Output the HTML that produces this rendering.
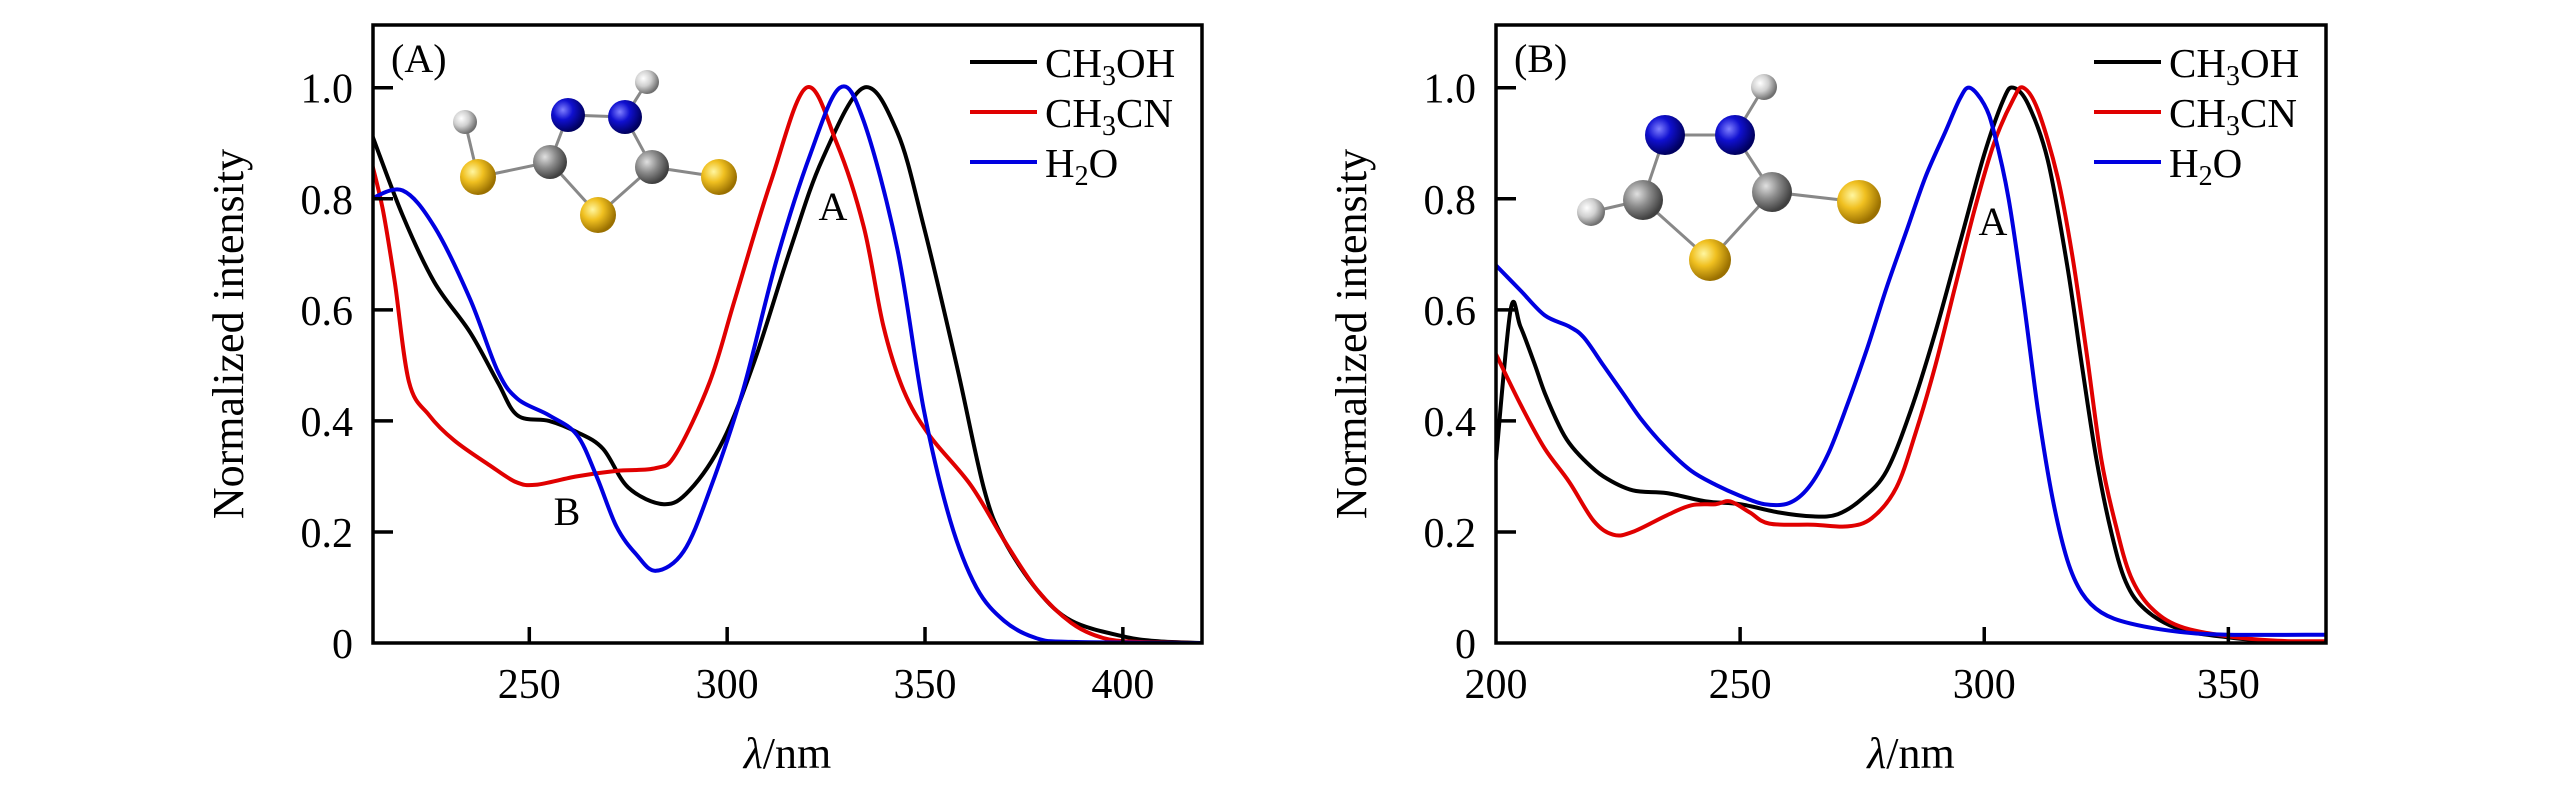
<!DOCTYPE html>
<html><head><meta charset="utf-8"><style>
html,body{margin:0;padding:0;background:#fff;}
svg{display:block;font-family:"Liberation Serif",serif;}
</style></head><body>
<svg id="fig" width="2567" height="787" viewBox="0 0 2567 787" xmlns="http://www.w3.org/2000/svg">
<defs>
<radialGradient id="gS" cx="35%" cy="35%" r="65%"><stop offset="0" stop-color="#fff6a0"/><stop offset="0.45" stop-color="#f0c020"/><stop offset="1" stop-color="#9a7000"/></radialGradient>
<radialGradient id="gN" cx="35%" cy="35%" r="65%"><stop offset="0" stop-color="#8080ff"/><stop offset="0.45" stop-color="#1010d0"/><stop offset="1" stop-color="#000060"/></radialGradient>
<radialGradient id="gC" cx="35%" cy="35%" r="65%"><stop offset="0" stop-color="#e0e0e0"/><stop offset="0.5" stop-color="#8a8a8a"/><stop offset="1" stop-color="#404040"/></radialGradient>
<radialGradient id="gH" cx="35%" cy="35%" r="65%"><stop offset="0" stop-color="#ffffff"/><stop offset="0.5" stop-color="#d0d0d0"/><stop offset="1" stop-color="#707070"/></radialGradient>
</defs>
<g id="panelA"></g>
<g id="panelB"></g>
</svg>
<script>
// ---- Panel A data ----
const aCH3OHx=[210,218,226,235,242,247,255,262,268.6,275,284,290.5,299,307,316,324,334.5,343,349.7,358,365,370,378.4,387,400,409,420];
const aCH3OHy=[0.92,0.77,0.65,0.56,0.47,0.41,0.40,0.38,0.35,0.28,0.25,0.275,0.365,0.51,0.71,0.87,1.0,0.92,0.75,0.50,0.275,0.185,0.095,0.04,0.012,0.003,0];
const aCH3CNx=[210,213,216,219.6,224.7,231,240,246.6,251.7,262,272,282,287,295.6,302,311,320,327.7,334.5,339.5,344.6,351,361.5,370,378.4,387,395,403.7,420];
const aCH3CNy=[0.87,0.78,0.65,0.47,0.41,0.365,0.32,0.29,0.285,0.30,0.31,0.315,0.34,0.47,0.62,0.83,1.0,0.90,0.75,0.57,0.455,0.375,0.285,0.185,0.095,0.036,0.009,0.002,0];
const aH2Ox=[210,218,226,235,242,247,255,262,267,272,277,282,289,295.6,304,312.5,321,328.5,334.5,343,349.7,356.4,363,370,378,387,420];
const aH2Oy=[0.80,0.815,0.75,0.62,0.49,0.44,0.41,0.375,0.30,0.21,0.16,0.13,0.165,0.275,0.455,0.69,0.88,1.0,0.94,0.71,0.42,0.22,0.10,0.04,0.009,0.002,0];
const aXTicks=[250,300,350,400];
// ---- Panel B data ----
const bCH3OHx=[200,203,205,208,210,213,215,218,222,228,235,243,250,258,265,270,275,280,285,290,295,300,304,306,309,313,317,320,323,326,329,333,340,350,360,370];
const bCH3OHy=[0.33,0.60,0.57,0.50,0.45,0.39,0.36,0.33,0.30,0.275,0.27,0.255,0.25,0.235,0.228,0.232,0.26,0.31,0.42,0.56,0.72,0.88,0.98,1.0,0.97,0.87,0.68,0.50,0.33,0.20,0.11,0.06,0.025,0.01,0.003,0.002];
const bCH3CNx=[200,205,210,215,220,224,228,235,240,245,248,252,256,265,272,277,282,286,290,294,298,302,306,308,311,315,318,321,324,327,330,334,340,350,360,370];
const bCH3CNy=[0.52,0.43,0.35,0.29,0.22,0.195,0.20,0.23,0.248,0.25,0.255,0.235,0.215,0.213,0.21,0.225,0.28,0.38,0.50,0.64,0.78,0.90,0.98,1.0,0.96,0.84,0.70,0.52,0.33,0.21,0.12,0.065,0.03,0.012,0.004,0.003];
const bH2Ox=[200,205,210,215,218,222,226,230,235,240,245,250,255,260,264,268,272,276,280,284,288,292,295,297,300,302,305,308,311,314,317,320,324,330,340,350,370];
const bH2Oy=[0.68,0.635,0.59,0.57,0.55,0.50,0.45,0.40,0.35,0.31,0.285,0.265,0.25,0.252,0.28,0.34,0.43,0.53,0.64,0.74,0.84,0.92,0.98,1.0,0.97,0.92,0.80,0.62,0.42,0.26,0.15,0.09,0.055,0.035,0.02,0.015,0.015];
const bXTicks=[200,250,300,350];
const yTicks=[0,0.2,0.4,0.6,0.8,1.0];
const yTickLabels=["0","0.2","0.4","0.6","0.8","1.0"];
const legendNames=[["CH","3","OH"],["CH","3","CN"],["H","2","O"]];
const colors=["#000","#e00000","#0000e0"];

const NS="http://www.w3.org/2000/svg";
function mk(parent,tag,attrs){const e=document.createElementNS(NS,tag);for(const k in attrs)e.setAttribute(k,attrs[k]);parent.appendChild(e);return e;}

function smoothPath(pts){
  let d='M'+pts[0][0].toFixed(1)+','+pts[0][1].toFixed(1);
  for(let i=0;i<pts.length-1;i++){
    const p0=pts[Math.max(0,i-1)],p1=pts[i],p2=pts[i+1],p3=pts[Math.min(pts.length-1,i+2)];
    const t=1/6;
    const c1x=p1[0]+(p2[0]-p0[0])*t, c1y=p1[1]+(p2[1]-p0[1])*t;
    const c2x=p2[0]-(p3[0]-p1[0])*t, c2y=p2[1]-(p3[1]-p1[1])*t;
    d+='C'+Math.max(p1[0],Math.min(p2[0],c1x)).toFixed(1)+','+c1y.toFixed(1)+' '+Math.max(p1[0],Math.min(p2[0],c2x)).toFixed(1)+','+c2y.toFixed(1)+' '+p2[0].toFixed(1)+','+p2[1].toFixed(1);
  }
  return d;
}

function panel(g,cfg){
  const {L,R,T,B,xmin,xmax,ymax}=cfg;
  const sx=v=>L+(v-xmin)/(xmax-xmin)*(R-L);
  const sy=v=>B-v/ymax*(B-T);
  const clip=mk(g,'clipPath',{id:cfg.id+'clip'});
  mk(clip,'rect',{x:L,y:T,width:R-L,height:B-T});
  cfg.series.forEach((s,i)=>{
    const pts=s.x.map((xv,j)=>[sx(xv),sy(s.y[j])]);
    const p=mk(g,'path',{d:smoothPath(pts),fill:'none',stroke:colors[i],'stroke-width':4,'stroke-linejoin':'round','clip-path':'url(#'+cfg.id+'clip)'});
    
    
  });
  const fr=mk(g,'rect',{x:L,y:T,width:R-L,height:B-T,fill:'none',stroke:'#000','stroke-width':3.5});
  
  
  yTicks.forEach((v,i)=>{
    if(v>0){const t=mk(g,'line',{x1:L,x2:L+20,y1:sy(v),y2:sy(v),stroke:'#000','stroke-width':3.5});
      
      }
    const tx=mk(g,'text',{x:L-20,y:sy(v)+15,'font-size':42,'text-anchor':'end'});
    tx.textContent=yTickLabels[i];
    
    
  });
  cfg.xt.forEach(v=>{
    if(v>xmin){const t=mk(g,'line',{x1:sx(v),x2:sx(v),y1:B,y2:B-16,stroke:'#000','stroke-width':3.5});
      
      }
    const tx=mk(g,'text',{x:sx(v),y:B+55,'font-size':42,'text-anchor':'middle'});
    tx.textContent=String(v);
    
    
  });
  const yt=mk(g,'text',{x:0,y:0,'font-size':44,'text-anchor':'middle',transform:'translate('+(L-130)+','+((T+B)/2)+') rotate(-90)'});
  yt.textContent='Normalized intensity';
  
  
  const xt=mk(g,'text',{x:(L+R)/2,y:B+125,'font-size':44,'text-anchor':'middle'});
  xt.innerHTML='<tspan font-style="italic">λ</tspan>/nm';
  
  
  const lab=mk(g,'text',{x:L+18,y:T+47,'font-size':40});
  lab.textContent=cfg.label;
  
  
  legendNames.forEach((n,i)=>{
    const y=62+i*50;
    const ln=mk(g,'line',{x1:R-232,x2:R-165,y1:y,y2:y,stroke:colors[i],'stroke-width':4});
    
    
    const t=mk(g,'text',{x:R-157,y:y+15,'font-size':41});
    t.innerHTML=n[0]+'<tspan font-size="28" dy="8">'+n[1]+'</tspan><tspan dy="-8">'+n[2]+'</tspan>';
    
    
  });
  cfg.notes.forEach(nt=>{
    const t=mk(g,'text',{x:nt[1],y:nt[2],'font-size':40,'text-anchor':'middle'});
    t.textContent=nt[0];
    
    
  });
  const m=mk(g,'g',{});
  
  
  cfg.bonds.forEach(b=>{const a=cfg.atoms[b[0]],c=cfg.atoms[b[1]];
    mk(m,'line',{x1:a[1],y1:a[2],x2:c[1],y2:c[2],stroke:'#888','stroke-width':3});});
  cfg.atoms.forEach(a=>{mk(m,'circle',{cx:a[1],cy:a[2],r:a[3],fill:'url(#g'+a[0]+')'});});
}

panel(document.getElementById('panelA'),{id:'a',L:373,R:1202,T:25,B:643,xmin:210.5,xmax:420,ymax:1.113,xt:aXTicks,label:'(A)',
  series:[{name:'ch3oh',x:aCH3OHx,y:aCH3OHy},{name:'ch3cn',x:aCH3CNx,y:aCH3CNy},{name:'h2o',x:aH2Ox,y:aH2Oy}],
  notes:[['A',833,220],['B',567,525]],
  atoms:[['H',465,122,12],['N',568,115,17],['N',625,117,17],['H',647,82,12],['C',550,162,17],['C',652,167,17],['S',478,177,18],['S',598,215,18],['S',719,177,18]],
  bonds:[[0,6],[6,4],[4,1],[1,2],[2,3],[2,5],[5,8],[5,7],[7,4]]});
panel(document.getElementById('panelB'),{id:'b',L:1496,R:2326,T:25,B:643,xmin:200,xmax:370,ymax:1.113,xt:bXTicks,label:'(B)',
  series:[{name:'ch3oh',x:bCH3OHx,y:bCH3OHy},{name:'ch3cn',x:bCH3CNx,y:bCH3CNy},{name:'h2o',x:bH2Ox,y:bH2Oy}],
  notes:[['A',1993,235]],
  atoms:[['H',1764,87,13],['N',1665,135,20],['N',1735,135,20],['C',1643,200,20],['C',1772,192,20],['H',1591,212,14],['S',1710,260,21],['S',1859,202,22]],
  bonds:[[0,2],[1,2],[1,3],[2,4],[3,5],[3,6],[6,4],[4,7]]});
</script>
</body></html>
